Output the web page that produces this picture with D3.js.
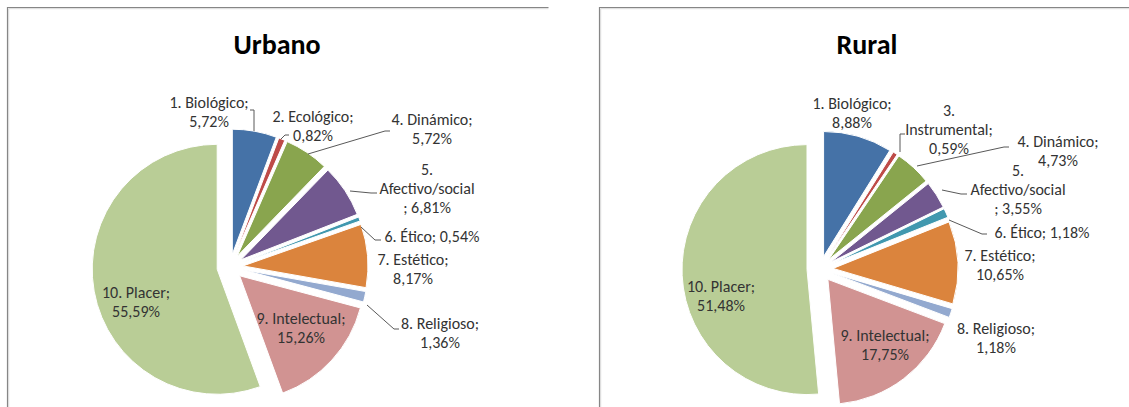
<!DOCTYPE html>
<html>
<head>
<meta charset="utf-8">
<script src="https://cdn.jsdelivr.net/npm/d3@7"></script>
<style>
  html, body { margin: 0; padding: 0; background: #fff; }
  svg { display: block; }
  text { font-family: Carlito, Calibri, Lato, "Open Sans", sans-serif; }
</style>
</head>
<body>
<svg id="chart" width="1129" height="407"></svg>
<script>
// Categories and shares (%) for each group
const urbanoCategories = ["1. Biológico", "2. Ecológico", "4. Dinámico", "5. Afectivo/social", "6. Ético",
                          "7. Estético", "8. Religioso", "9. Intelectual", "10. Placer"];
const urbanoValues = [5.72, 0.82, 5.72, 6.81, 0.54, 8.17, 1.36, 15.26, 55.59];

const ruralCategories = ["1. Biológico", "3. Instrumental", "4. Dinámico", "5. Afectivo/social", "6. Ético",
                         "7. Estético", "8. Religioso", "9. Intelectual", "10. Placer"];
const ruralValues = [8.88, 0.59, 4.73, 3.55, 1.18, 10.65, 1.18, 17.75, 51.48];

// Slice colours, in drawing order
const sliceColors = ["#4572A7", "#BE4B48", "#89A54E", "#71588F", "#4198AF",
                     "#DB843D", "#93A9CF", "#D19392", "#B9CD96"];

// Label layout: offset of the label centre from the pie centre, line wrapping,
// and optional leader line (points relative to the pie centre)
const urbanoLabelLayout = [
  { dx: -21, dy: -155, wrap: "name;/value", leader: [[20, -157], [24, -157], [24, -136]] },
  { dx: 83,  dy: -141, wrap: "name;/value", leader: [[59, -132], [55, -132], [51, -128]] },
  { dx: 202, dy: -138, wrap: "name;/value", leader: [[160, -136], [155, -136], [78, -113]] },
  { dx: 197, dy: -79,  wrap: "num/name/;value", leader: [[147, -74], [141, -74], [120, -76]] },
  { dx: 202, dy: -31,  wrap: "single", leader: [[151, -27], [145, -27], [131, -40]] },
  { dx: 183, dy: 2,    wrap: "name;/value", leader: null },
  { dx: 210, dy: 66,   wrap: "name;/value", leader: [[169, 62], [164, 62], [137, 38]] },
  { dx: 71,  dy: 61,   wrap: "name;/value", leader: null },
  { dx: -94, dy: 35,   wrap: "name;/value", leader: null }
];

const ruralLabelLayout = [
  { dx: 32,  dy: -156, wrap: "name;/value", leader: null },
  { dx: 129, dy: -140, wrap: "num/name;/value", leader: [[85, -135], [80, -135], [80, -117]] },
  { dx: 238, dy: -118, wrap: "name;/value", leader: [[189, -122], [184, -122], [97, -103]] },
  { dx: 198, dy: -80,  wrap: "num/name/;value", leader: [[147, -75], [141, -75], [122, -79]] },
  { dx: 222, dy: -37,  wrap: "single", leader: [[167, -35], [162, -35], [129, -49]] },
  { dx: 180, dy: -4,   wrap: "name;/value", leader: null },
  { dx: 176, dy: 69,   wrap: "name;/value", leader: null },
  { dx: 65,  dy: 76,   wrap: "name;/value", leader: null },
  { dx: -99, dy: 27,   wrap: "name;/value", leader: null }
];

const charts = [
  { title: "Urbano", categories: urbanoCategories, values: urbanoValues, layout: urbanoLabelLayout,
    box: { x: 7.5, y: 7.5, w: 541 }, center: [230, 267] },
  { title: "Rural", categories: ruralCategories, values: ruralValues, layout: ruralLabelLayout,
    box: { x: 599.5, y: 7.5, w: 540 }, center: [820, 269] }
];

const radius = 125;
const explode = 13;
const lineHeight = 19;
const fmt = v => d3.format(".2f")(v).replace(".", ",") + "%";

function labelLines(name, value, wrap) {
  const v = fmt(value);
  const sp = name.indexOf(" ");
  const num = name.slice(0, sp);
  const rest = name.slice(sp + 1);
  switch (wrap) {
    case "single": return [name + "; " + v];
    case "num/name/;value": return [num, rest, "; " + v];
    case "num/name;/value": return [num, rest + ";", v];
    default: return [name + ";", v];
  }
}

const svg = d3.select("#chart");

charts.forEach(c => {
  const g = svg.append("g");

  // chart frame (top and left edges visible, right/bottom run off the page)
  g.append("path")
    .attr("d", `M${c.box.x},407 V${c.box.y} H${c.box.x + c.box.w}`)
    .attr("fill", "none").attr("stroke", "#868686").attr("stroke-width", 1.2);
  g.append("path")
    .attr("d", `M${c.box.x + 1.2},407 V${c.box.y + 1.2} H${c.box.x + c.box.w}`)
    .attr("fill", "none").attr("stroke", "#d9d9d9").attr("stroke-width", 1);

  g.append("text")
    .attr("x", c.center[0] + 47).attr("y", 54)
    .attr("text-anchor", "middle")
    .attr("font-size", 28).attr("font-weight", "bold").attr("fill", "#000")
    .text(c.title);

  const pie = d3.pie().sort(null).value(d => d.value);
  const arcs = pie(c.values.map((v, i) => ({ name: c.categories[i], value: v, i })));
  const arc = d3.arc().innerRadius(0).outerRadius(radius);

  const pg = g.append("g").attr("transform", `translate(${c.center[0]},${c.center[1]})`);

  pg.selectAll("path.slice")
    .data(arcs)
    .join("path")
    .attr("class", "slice")
    .attr("transform", d => {
      const a = (d.startAngle + d.endAngle) / 2;
      return `translate(${explode * Math.sin(a)},${-explode * Math.cos(a)})`;
    })
    .attr("d", arc)
    .attr("fill", d => sliceColors[d.data.i])
    .attr("stroke", "#fff").attr("stroke-width", 1);

  // leader lines
  pg.selectAll("path.leader")
    .data(c.layout.filter(l => l.leader))
    .join("path")
    .attr("class", "leader")
    .attr("d", l => d3.line()(l.leader))
    .attr("fill", "none").attr("stroke", "#595959").attr("stroke-width", 1);

  // data labels
  arcs.forEach((d, i) => {
    const l = c.layout[i];
    const lines = labelLines(d.data.name, d.data.value, l.wrap);
    const t = pg.append("text")
      .attr("text-anchor", "middle")
      .attr("font-size", 16).attr("fill", "#333");
    const y0 = l.dy - (lines.length - 1) * lineHeight / 2;
    lines.forEach((s, k) => {
      t.append("tspan")
        .attr("x", l.dx).attr("y", y0 + k * lineHeight)
        .attr("dy", "0.35em")
        .text(s);
    });
  });
});
</script>
</body>
</html>
